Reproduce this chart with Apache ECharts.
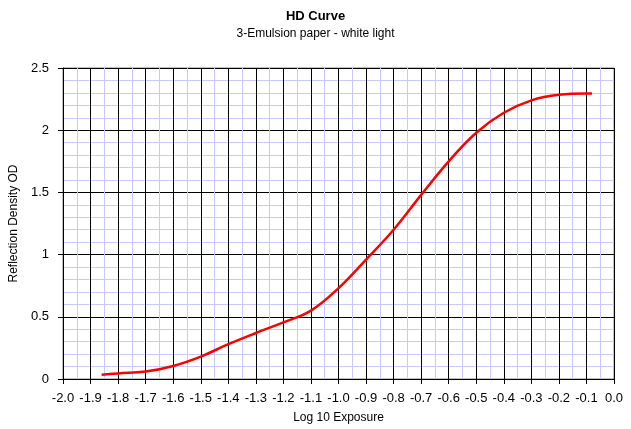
<!DOCTYPE html>
<html><head><meta charset="utf-8">
<script src="https://cdn.jsdelivr.net/npm/echarts@6/dist/echarts.min.js"></script>
<style>html,body{margin:0;padding:0;background:#fff}#c{width:631px;height:429px}</style>
</head><body><div id="c"></div>
<script>
const logExposure = [-1.86, -1.8, -1.7, -1.6, -1.5, -1.4, -1.3, -1.2, -1.1, -1.0, -0.9, -0.8, -0.7, -0.6, -0.5, -0.4, -0.3, -0.2, -0.1, -0.08];
const density =     [0.035, 0.045, 0.06, 0.105, 0.18, 0.28, 0.37, 0.455, 0.55, 0.73, 0.96, 1.20, 1.48, 1.75, 1.98, 2.14, 2.24, 2.285, 2.295, 2.295];
const titleText = 'HD Curve';
const subtitleText = '3-Emulsion paper - white light';
const xName = 'Log 10 Exposure';
const yName = 'Reflection Density OD';

const chart = echarts.init(document.getElementById('c'), null, {renderer: 'canvas'});
const font = 'Liberation Sans, Arial, sans-serif';
chart.setOption({
  animation: false,
  backgroundColor: '#fff',
  title: {
    text: titleText, subtext: subtitleText, left: 'center', top: 5, itemGap: 5,
    textStyle: {fontFamily: font, fontSize: 13, fontWeight: 'bold', color: '#000'},
    subtextStyle: {fontFamily: font, fontSize: 12, color: '#000'}
  },
  grid: {left: 63, right: 17, top: 68, bottom: 49, show: true, borderColor: '#808080', borderWidth: 1},
  xAxis: {
    type: 'value', min: -2, max: 0, interval: 0.1,
    name: xName, nameLocation: 'middle', nameGap: 33,
    nameTextStyle: {fontFamily: font, fontSize: 12, color: '#000'},
    axisLine: {show: true, onZero: false, lineStyle: {color: '#000'}},
    axisTick: {show: true, length: 5, lineStyle: {color: '#000'}},
    minorTick: {show: false, splitNumber: 2},
    axisLabel: {fontFamily: font, fontSize: 13, color: '#000', margin: 13, formatter: v => v.toFixed(1)},
    splitLine: {show: true, lineStyle: {color: '#000', width: 1}},
    minorSplitLine: {show: true, lineStyle: {color: '#c8c8ff', width: 1}}
  },
  yAxis: {
    type: 'value', min: 0, max: 2.5, interval: 0.5,
    name: yName, nameLocation: 'middle', nameGap: 39, nameRotate: 90,
    nameTextStyle: {fontFamily: font, fontSize: 12, color: '#000'},
    axisLine: {show: true, onZero: false, lineStyle: {color: '#000'}},
    axisTick: {show: true, length: 5, lineStyle: {color: '#000'}},
    minorTick: {show: false, splitNumber: 5},
    axisLabel: {fontFamily: font, fontSize: 13, color: '#000', margin: 14, formatter: v => String(v)},
    splitLine: {show: true, lineStyle: {color: '#000', width: 1}},
    minorSplitLine: {show: true, lineStyle: {color: '#c8c8ff', width: 1}}
  },
  series: [{
    type: 'line', smooth: 0.4, showSymbol: false, symbol: 'none',
    data: logExposure.map((x, i) => [x, density[i]]),
    lineStyle: {color: '#ff0000', width: 2.5}
  }]
});
</script></body></html>
